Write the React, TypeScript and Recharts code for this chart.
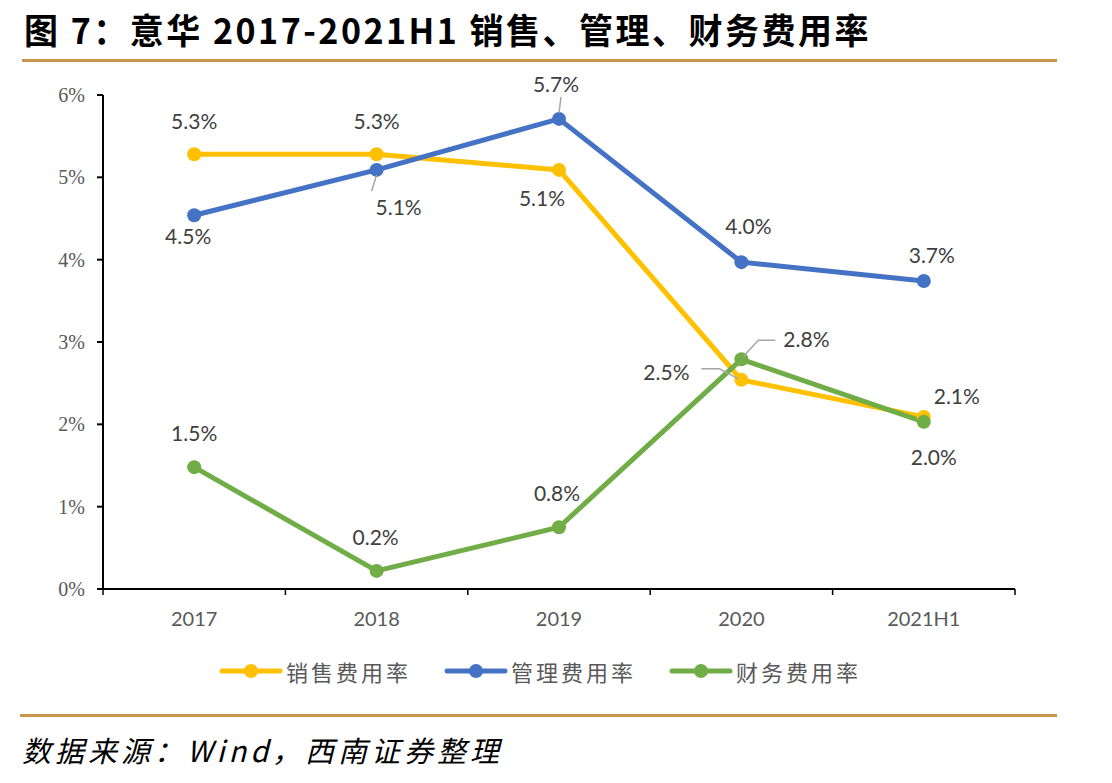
import React from 'react';
import { LineChart, Line, XAxis, YAxis, LabelList } from 'recharts';

const years = ['2017', '2018', '2019', '2020', '2021H1'];
const salesRate = [5.28, 5.28, 5.09, 2.54, 2.09];
const adminRate = [4.54, 5.09, 5.71, 3.97, 3.74];
const financeRate = [1.48, 0.22, 0.75, 2.79, 2.03];
const yTicks = [0, 1, 2, 3, 4, 5, 6];

const series = [
  { key: 'sales', name: '销售费用率', color: '#FFC000' },
  { key: 'admin', name: '管理费用率', color: '#4472C4' },
  { key: 'finance', name: '财务费用率', color: '#70AD47' },
];

const chartData = years.map((year, i) => ({
  year,
  sales: salesRate[i],
  admin: adminRate[i],
  finance: financeRate[i],
}));

// label offsets from the point (text center), and optional leader lines
const labelOffsets: Record<string, [number, number][]> = {
  sales: [[0, -34], [0, -34], [-17, 28], [-75, -8], [33, -21]],
  admin: [[-6, 20], [22, 37], [-3, -35], [7, -37], [8, -27]],
  finance: [[0, -35], [-1, -34], [-2, -35], [65, -21], [10, 35]],
};
const leaders: Record<string, Record<number, [number, number][]>> = {
  sales: { 3: [[-40, -11], [-22, -11], [-3, -1]] },
  admin: { 1: [[-5, 21], [0, 5]], 2: [[2, -22], [0, -6]] },
  finance: { 3: [[2, -3], [17, -19], [34, -19]] },
};

const labelFont = 'Lato, "Open Sans", "Noto Sans", sans-serif';

const makeLabel = (key: string) => (props: any) => {
  const { x, y, value, index } = props;
  const [dx, dy] = labelOffsets[key][index];
  const pts = leaders[key][index];
  return (
    <g>
      {pts && (
        <polyline
          points={pts.map(([px, py]) => `${x + px},${y + py}`).join(' ')}
          fill="none"
          stroke="#A6A6A6"
          strokeWidth={1.5}
        />
      )}
      <text
        x={x + dx}
        y={y + dy}
        textAnchor="middle"
        dominantBaseline="central"
        fontSize={21}
        fontFamily={labelFont}
        fill="#404040"
      >
        {`${Number(value).toFixed(1)}%`}
      </text>
    </g>
  );
};

const BAND = 182.4;

const XTick = (props: any) => {
  const { x, y, payload, index } = props;
  const axisY = y - 8;
  return (
    <g>
      <line x1={x - BAND / 2} y1={axisY} x2={x - BAND / 2} y2={axisY + 6} stroke="#000" strokeWidth={1.5} />
      {index === years.length - 1 && (
        <line x1={x + BAND / 2} y1={axisY} x2={x + BAND / 2} y2={axisY + 6} stroke="#000" strokeWidth={1.5} />
      )}
      <text
        x={x}
        y={axisY + 29}
        textAnchor="middle"
        dominantBaseline="central"
        fontSize={20}
        fontFamily={labelFont}
        fill="#595959"
      >
        {payload.value}
      </text>
    </g>
  );
};

const App = () => {
  return (
    <div
      style={{
        position: 'absolute',
        left: 0,
        top: 0,
        width: 1112,
        height: 783,
        background: '#fff',
        overflow: 'hidden',
      }}
    >
      <div
        style={{
          position: 'absolute',
          left: 24,
          top: 4,
          fontFamily: '"Noto Sans CJK SC", sans-serif',
          fontWeight: 700,
          fontSize: 34,
          color: '#000',
          letterSpacing: 2.5,
          transform: 'scaleY(1.05)',
        }}
      >
        图 7：意华 2017-2021H1 销售、管理、财务费用率
      </div>
      <div style={{ position: 'absolute', left: 22, top: 59, width: 1035, height: 3, background: '#C8964B' }} />

      <div style={{ position: 'absolute', left: 0, top: 0 }}>
        <LineChart
          width={1112}
          height={783}
          data={chartData}
          margin={{ top: 95, right: 97, bottom: 164, left: 33 }}
        >
          <XAxis
            dataKey="year"
            padding={{ left: BAND / 2, right: BAND / 2 }}
            axisLine={{ stroke: '#000', strokeWidth: 2 }}
            tickLine={false}
            tick={<XTick />}
            height={30}
            interval={0}
          />
          <YAxis
            domain={[0, 6]}
            ticks={yTicks}
            width={70}
            axisLine={{ stroke: '#000', strokeWidth: 2 }}
            tickLine={{ stroke: '#000', strokeWidth: 2 }}
            tickSize={6}
            tickFormatter={(v: number) => `${v}%`}
            tick={{ fontSize: 20, fontFamily: '"Liberation Serif", serif', fill: '#595959' }}
            tickMargin={12}
          />
          {series.map((s) => (
            <Line
              key={s.key}
              dataKey={s.key}
              name={s.name}
              stroke={s.color}
              strokeWidth={5}
              dot={{ r: 7, fill: s.color, stroke: s.color, strokeWidth: 0 }}
              isAnimationActive={false}
            >
              <LabelList dataKey={s.key} content={makeLabel(s.key)} />
            </Line>
          ))}
        </LineChart>
      </div>

      <div
        style={{
          position: 'absolute',
          top: 655,
          left: 219,
          display: 'flex',
          fontFamily: '"Noto Sans CJK SC", sans-serif',
          fontSize: 22,
          color: '#595959',
        }}
      >
        {series.map((s, i) => (
          <div key={s.key} style={{ display: 'flex', alignItems: 'center', marginRight: i < 2 ? 33 : 0 }}>
            <svg width={64} height={30}>
              <line x1={3} y1={15} x2={61} y2={15} stroke={s.color} strokeWidth={5} strokeLinecap="round" />
              <circle cx={32} cy={15} r={7} fill={s.color} />
            </svg>
            <span style={{ marginLeft: 3, letterSpacing: 3 }}>{s.name}</span>
          </div>
        ))}
      </div>

      <div style={{ position: 'absolute', left: 20, top: 714, width: 1037, height: 3, background: '#C8964B' }} />
      <div
        style={{
          position: 'absolute',
          left: 22,
          top: 728,
          fontFamily: '"Noto Sans CJK SC", "Liberation Sans", sans-serif',
          fontStyle: 'italic',
          fontSize: 29,
          color: '#000',
          letterSpacing: 4,
        }}
      >
        数据来源：Wind，西南证券整理
      </div>
    </div>
  );
};

export default App;
